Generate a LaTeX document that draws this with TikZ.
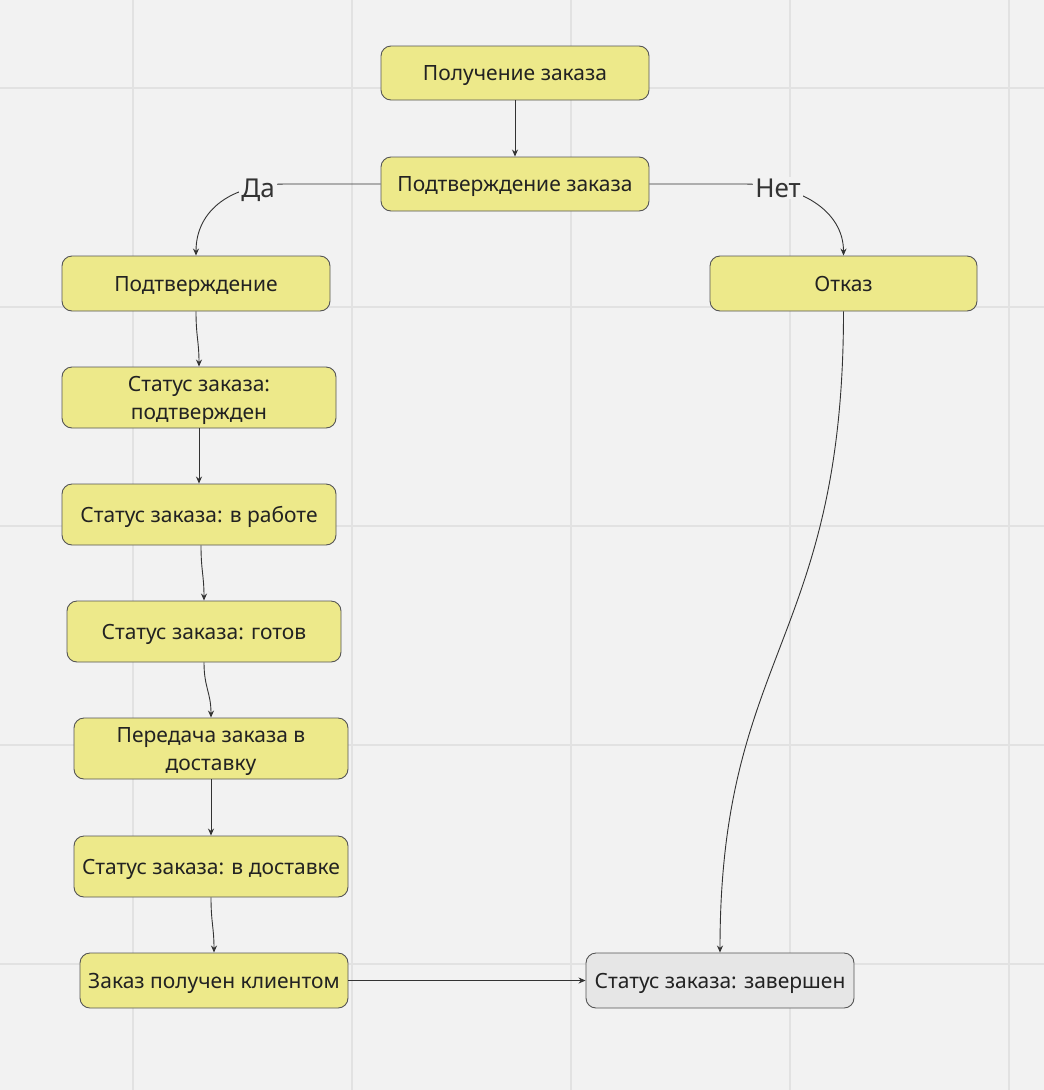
\documentclass[tikz,border=0pt]{standalone}
\usepackage{fontspec}
\setmainfont{Noto Sans}
\usetikzlibrary{arrows.meta}
\definecolor{bg}{HTML}{F2F2F2}
\definecolor{gridc}{HTML}{E2E2E2}
\definecolor{yel}{HTML}{EDE98A}
\definecolor{gryf}{HTML}{E6E6E6}
\definecolor{edgec}{HTML}{555555}
\definecolor{txt}{HTML}{222222}
\definecolor{lbl}{HTML}{333333}
\tikzset{
  box/.style={draw=edgec, line width=0.9pt, rounded corners=10pt, fill=yel,
    text=txt, font=\fontsize{21}{28}\selectfont, align=center, inner sep=0pt,
    text height=15pt, text depth=0pt},
  twoline/.style={text height=43pt},
  arr/.style={draw=lbl, line width=0.9pt, -{Stealth[length=7pt,width=6pt]}},
  elabel/.style={fill=bg, text=lbl, font=\fontsize{26}{30}\selectfont, inner sep=2pt},
}
\begin{document}
\begin{tikzpicture}[x=1pt,y=-1pt]
\fill[bg] (0,0) rectangle (1044,1090);
\useasboundingbox (0,0) rectangle (1044,1090);
\foreach \gx in {133,352,571,790,1009} \draw[gridc, line width=2pt] (\gx,0) -- (\gx,1090);
\foreach \gy in {88,307,526,745,964} \draw[gridc, line width=2pt] (0,\gy) -- (1044,\gy);

\node[box, minimum width=268pt, minimum height=54pt] (n1) at (515,73) {Получение заказа};
\node[box, minimum width=268pt, minimum height=54pt] (n2) at (515,184) {Подтверждение заказа};
\node[box, minimum width=268pt, minimum height=55pt] (n3) at (196,283.5) {Подтверждение};
\node[box, minimum width=267pt, minimum height=55pt] (n4) at (843.5,283.5) {Отказ};
\node[box, twoline, minimum width=274pt, minimum height=61pt] (n5) at (199,397.5) {Статус заказа:\\подтвержден};
\node[box, minimum width=274pt, minimum height=61pt] (n6) at (199,514.5) {Статус заказа: в работе};
\node[box, minimum width=274pt, minimum height=61pt] (n7) at (204,631.5) {Статус заказа: готов};
\node[box, twoline, minimum width=274pt, minimum height=61pt] (n8) at (211,748.5) {Передача заказа в\\доставку};
\node[box, minimum width=274pt, minimum height=61pt] (n9) at (211,866.5) {Статус заказа: в доставке};
\node[box, minimum width=268pt, minimum height=55pt] (n10) at (214,980.5) {Заказ получен клиентом};
\node[box, fill=gryf, minimum width=268pt, minimum height=55pt] (n11) at (720,980.5) {Статус заказа: завершен};

\draw[arr] (n1.south) -- (n2.north);
\draw[arr] (n2.west) -- ++(-95,0) .. controls +(-55,0) and +(0,-45) .. (n3.north);
\draw[arr] (n2.east) -- ++(95,0) .. controls +(55,0) and +(0,-45) .. (n4.north);
\draw[arr] (n3.south) .. controls +(0,25) and +(0,-25) .. ([xshift=3pt]n3.south |- n5.north);
\draw[arr] (n5.south) -- (n6.north);
\draw[arr] ([xshift=2pt]n6.south) .. controls +(0,25) and +(0,-25) .. (n7.north);
\draw[arr] (n7.south) .. controls +(0,25) and +(0,-25) .. (n8.north);
\draw[arr] (n8.south) -- (n9.north);
\draw[arr] (n9.south) .. controls +(0,25) and +(0,-25) .. (n10.north);
\draw[arr] (n10.east) -- (n11.west);
\draw[arr] (n4.south) .. controls +(0,330) and +(0,-300) .. (n11.north);

\node[elabel] (da) at (258,190) {Да};
\node[elabel] (net) at (778,188) {Нет};
\end{tikzpicture}
\end{document}
